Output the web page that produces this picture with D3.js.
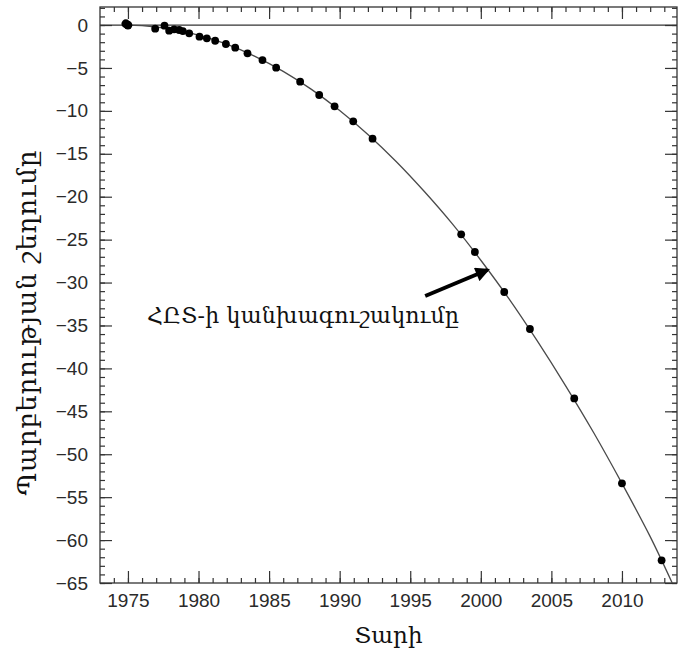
<!DOCTYPE html>
<html>
<head>
<meta charset="utf-8">
<script src="https://cdn.jsdelivr.net/npm/d3@7"></script>
<style>
	body { margin: 0; background: #fff; }
	svg { display: block; }
</style>
</head>
<body>
<svg></svg>
<script>
const svgWidth = 679;
const svgHeight = 658;
const plotLeft = 100, plotRight = 677, plotTop = 7, plotBottom = 583;

// measured points (year, shift in s)
const obsYears = [1974.85, 1975.0, 1976.93, 1977.59, 1977.92, 1978.27, 1978.63, 1978.89, 1979.34,
	1980.07, 1980.59, 1981.18, 1981.94, 1982.60, 1983.47, 1984.53, 1985.50, 1987.20, 1988.55,
	1989.64, 1990.96, 1992.33, 1998.61, 1999.58, 2001.66, 2003.48, 2006.62, 2010.00, 2012.81];
const obsShift = [0.15, 0.0, -0.43, -0.08, -0.66, -0.50, -0.58, -0.70, -0.97,
	-1.36, -1.55, -1.83, -2.21, -2.64, -3.30, -4.08, -4.97, -6.60, -8.15,
	-9.47, -11.22, -13.24, -24.38, -26.44, -31.10, -35.41, -43.50, -53.39, -62.36];

// prediction curve
const curveYears = [1974.8, 1976, 1978, 1980, 1982, 1984, 1986, 1988, 1990, 1992, 1994,
	1996, 1998, 2000, 2002, 2004, 2006, 2008, 2010, 2012, 2013.56];
const curveShift = [0, -0.06, -0.44, -1.17, -2.23, -3.65, -5.4, -7.5, -9.96, -12.75, -15.9,
	-19.4, -23.2, -27.4, -31.9, -36.8, -42.0, -47.5, -53.4, -59.6, -65];

const xMajor = [1975, 1980, 1985, 1990, 1995, 2000, 2005, 2010];
const xMinor = d3.range(1974, 2014);
const yMajor = [0, -5, -10, -15, -20, -25, -30, -35, -40, -45, -50, -55, -60, -65];
const yMinor = d3.range(-65, 3);

const xLabel = "Տարի";
const yLabel = "Պարբերության շեղումը";
const noteLabel = "ՀԸՏ-ի կանխագուշակումը";

const svg = d3.select("svg")
	.attr("width", svgWidth)
	.attr("height", svgHeight);

const xScale = d3.scaleLinear()
	.domain([1973.02, 2013.9])
	.range([plotLeft, plotRight]);
const yScale = d3.scaleLinear()
	.domain([-65, 2.1])
	.range([plotBottom, plotTop]);

const frameColor = "#333";
const labelFont = "'Liberation Sans', Arial, sans-serif";
const armFont = "'DejaVu Serif', 'DejaVu Sans', serif";

svg.append("defs").append("clipPath")
	.attr("id", "clip")
	.append("rect")
	.attr("x", plotLeft).attr("y", plotTop)
	.attr("width", plotRight - plotLeft).attr("height", plotBottom - plotTop);

function styleAxis(g) {
	g.select(".domain").remove();
	g.selectAll("line").attr("stroke", frameColor).attr("stroke-width", 1.2);
	g.selectAll("text")
		.attr("fill", "#2a2a2a")
		.attr("font-family", labelFont)
		.attr("font-size", 19);
}

// ticks, inward on all four sides
svg.append("g")
	.attr("transform", `translate(0, ${plotBottom})`)
	.call(d3.axisBottom(xScale).tickValues(xMinor).tickSize(-5).tickFormat(""))
	.call(styleAxis);
svg.append("g")
	.attr("transform", `translate(0, ${plotBottom})`)
	.call(d3.axisBottom(xScale).tickValues(xMajor).tickSize(-12).tickPadding(11).tickFormat(d3.format("d")))
	.call(styleAxis);
svg.append("g")
	.attr("transform", `translate(0, ${plotTop})`)
	.call(d3.axisTop(xScale).tickValues(xMinor).tickSize(-5).tickFormat(""))
	.call(styleAxis);
svg.append("g")
	.attr("transform", `translate(0, ${plotTop})`)
	.call(d3.axisTop(xScale).tickValues(xMajor).tickSize(-12).tickFormat(""))
	.call(styleAxis);

svg.append("g")
	.attr("transform", `translate(${plotLeft}, 0)`)
	.call(d3.axisLeft(yScale).tickValues(yMinor).tickSize(-5).tickFormat(""))
	.call(styleAxis);
svg.append("g")
	.attr("transform", `translate(${plotLeft}, 0)`)
	.call(d3.axisLeft(yScale).tickValues(yMajor).tickSize(-12).tickPadding(12).tickFormat(d3.format("d")))
	.call(styleAxis);
svg.append("g")
	.attr("transform", `translate(${plotRight}, 0)`)
	.call(d3.axisRight(yScale).tickValues(yMinor).tickSize(-5).tickFormat(""))
	.call(styleAxis);
svg.append("g")
	.attr("transform", `translate(${plotRight}, 0)`)
	.call(d3.axisRight(yScale).tickValues(yMajor).tickSize(-12).tickFormat(""))
	.call(styleAxis);

// frame
svg.append("rect")
	.attr("x", plotLeft).attr("y", plotTop)
	.attr("width", plotRight - plotLeft).attr("height", plotBottom - plotTop)
	.attr("fill", "none")
	.attr("stroke", frameColor)
	.attr("stroke-width", 1.3);

// zero line
svg.append("line")
	.attr("x1", plotLeft).attr("x2", plotRight)
	.attr("y1", yScale(0)).attr("y2", yScale(0))
	.attr("stroke", frameColor)
	.attr("stroke-width", 1.2);

// prediction curve
const curveData = curveYears.map((d, i) => [d, curveShift[i]]);
svg.append("path")
	.datum(curveData)
	.attr("clip-path", "url(#clip)")
	.attr("fill", "none")
	.attr("stroke", "#4a4a4a")
	.attr("stroke-width", 1.3)
	.attr("d", d3.line()
		.x(d => xScale(d[0]))
		.y(d => yScale(d[1]))
		.curve(d3.curveCatmullRom));

// data points
svg.append("g")
	.selectAll("circle")
	.data(obsYears.map((d, i) => [d, obsShift[i]]))
	.enter()
	.append("circle")
		.attr("cx", d => xScale(d[0]))
		.attr("cy", d => yScale(d[1]))
		.attr("r", (d, i) => i < 2 ? 4.4 : 3.9)
		.attr("fill", "#000");

// annotation arrow
const arrowFrom = [1996.06, -31.57];
const arrowTo = [2000.46, -28.54];
svg.append("defs").append("marker")
	.attr("id", "head")
	.attr("viewBox", "0 0 10 10")
	.attr("refX", 8).attr("refY", 5)
	.attr("markerWidth", 4.4).attr("markerHeight", 3.6)
	.attr("markerUnits", "strokeWidth")
	.attr("orient", "auto")
	.append("path")
	.attr("d", "M0,0 L10,5 L0,10 z")
	.attr("fill", "#000");
svg.append("line")
	.attr("x1", xScale(arrowFrom[0])).attr("y1", yScale(arrowFrom[1]))
	.attr("x2", xScale(arrowTo[0])).attr("y2", yScale(arrowTo[1]))
	.attr("stroke", "#000")
	.attr("stroke-width", 4)
	.attr("marker-end", "url(#head)");

svg.append("text")
	.text(noteLabel)
	.attr("x", 147)
	.attr("y", 323)
	.attr("font-family", armFont)
	.attr("font-size", 22)
	.attr("textLength", 312)
	.attr("fill", "#111");

// axis titles
svg.append("text")
	.text(xLabel)
	.attr("x", (plotLeft + plotRight) / 2)
	.attr("y", 643)
	.attr("text-anchor", "middle")
	.attr("font-family", armFont)
	.attr("font-size", 23)
	.attr("fill", "#111");

svg.append("text")
	.text(yLabel)
	.attr("transform", "rotate(-90)")
	.attr("x", -323)
	.attr("y", 36)
	.attr("text-anchor", "middle")
	.attr("font-family", armFont)
	.attr("font-size", 26)
	.attr("textLength", 345)
	.attr("fill", "#111");
</script>
</body>
</html>
